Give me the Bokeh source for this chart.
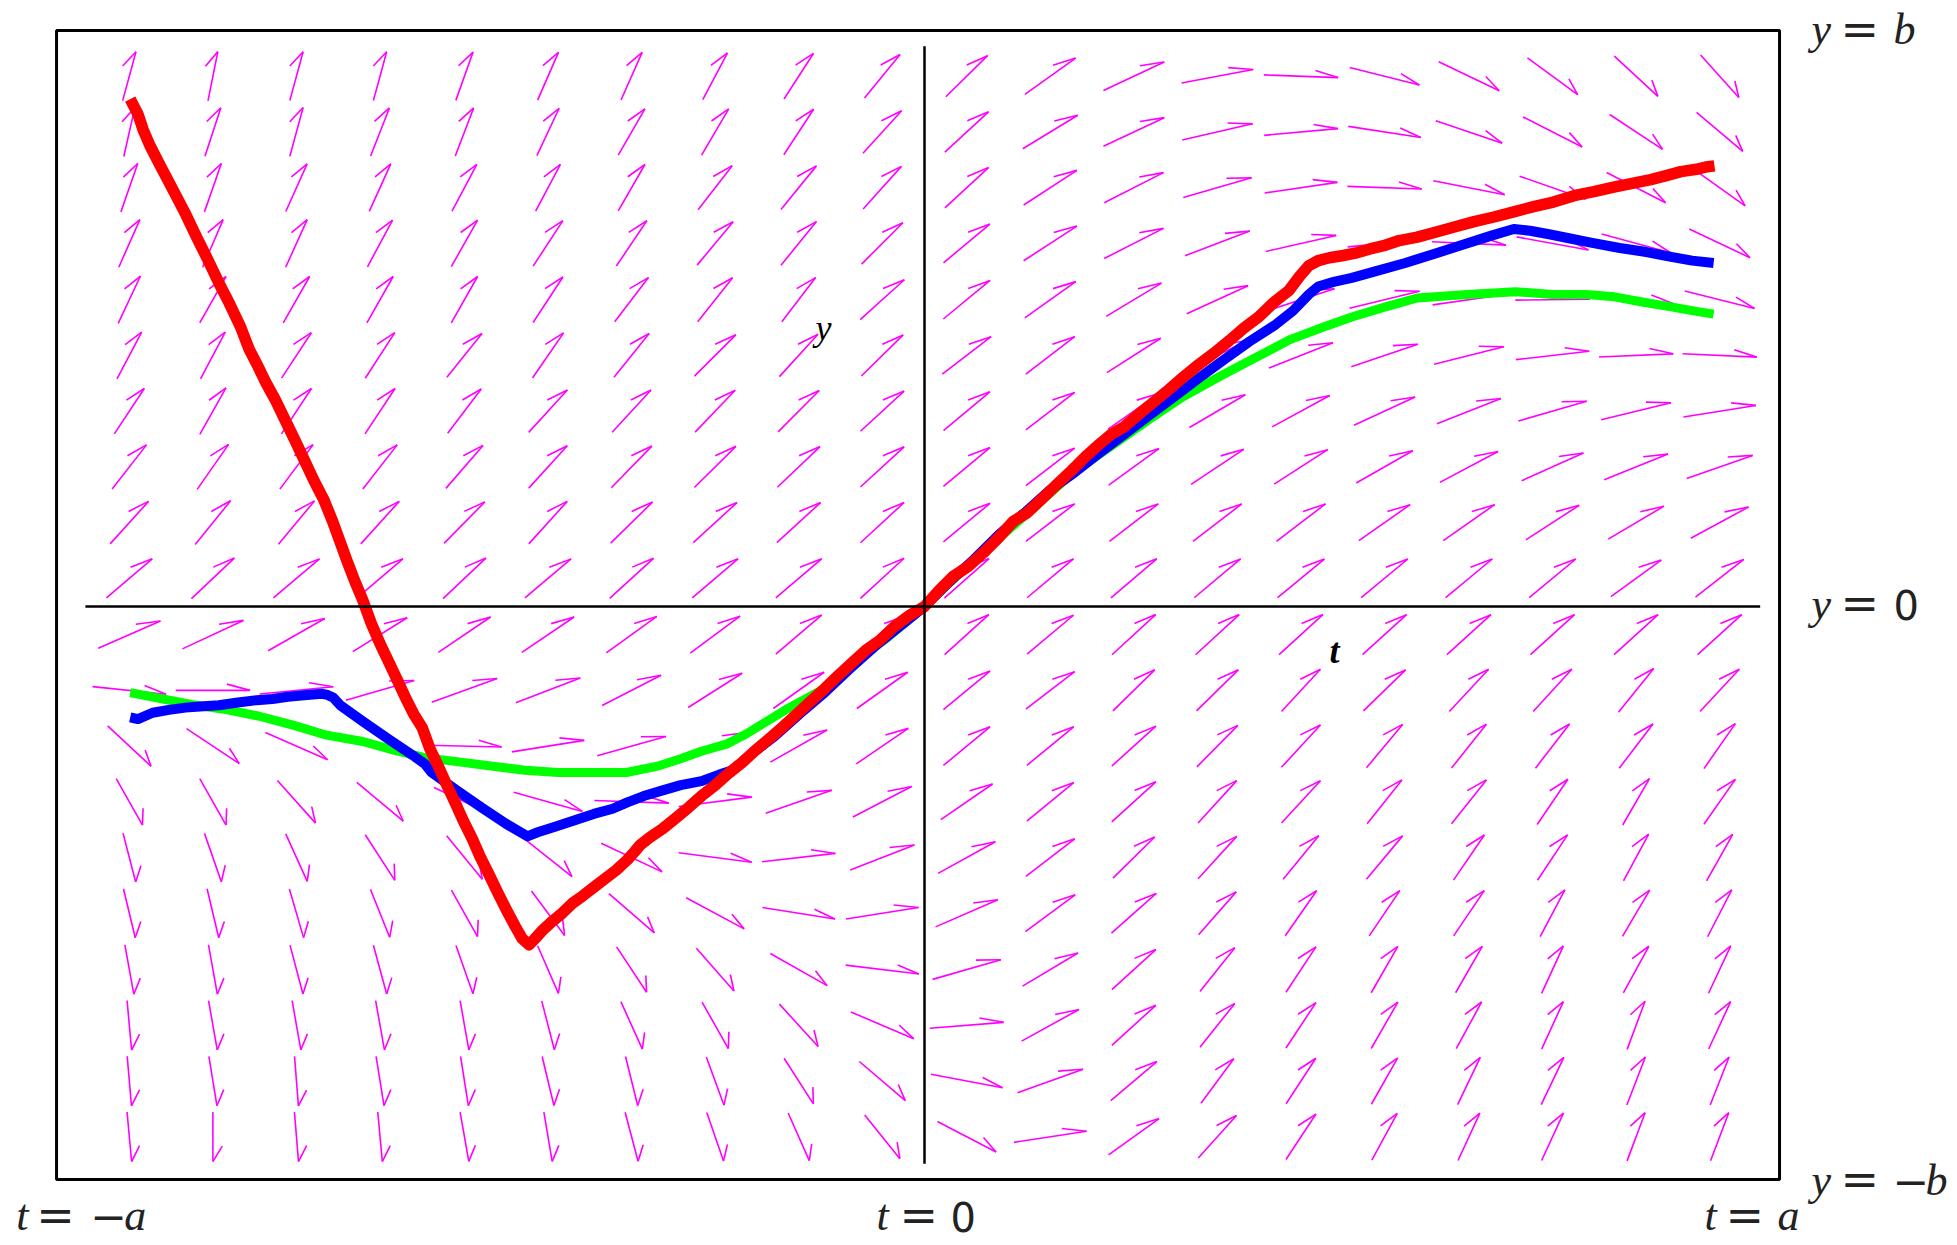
import math
from bokeh.plotting import figure
from bokeh.models import Range1d
from bokeh.core.properties import value
from bokeh.embed import file_html
from bokeh.resources import INLINE

# ---------------- data ----------------
# direction-field grid (t across, y down the rows from top)
t_grid = [-0.923, -0.826, -0.729, -0.632, -0.534, -0.437, -0.340, -0.243, -0.146, -0.049,
          0.049, 0.146, 0.243, 0.340, 0.437, 0.534, 0.632, 0.729, 0.826, 0.923]
y_grid = [0.923, 0.826, 0.729, 0.632, 0.534, 0.437, 0.340, 0.243, 0.146, 0.049,
          -0.049, -0.146, -0.243, -0.340, -0.437, -0.534, -0.632, -0.729, -0.826, -0.923]

field_angle_deg = [
    [79.7, 82.4, 79.7, 79.7, 76.6, 73.7, 73.5, 70.6, 66.7, 61.4, 55.9, 47.0, 35.2, 15.9, -3.1, -20.6, -35.6, -47.6, -54.2, -59.1],
    [81.5, 77.7, 79.7, 75.4, 75.7, 72.6, 69.0, 68.6, 66.4, 58.7, 54.1, 42.4, 35.2, 19.1, 7.8, -13.0, -26.9, -37.3, -44.7, -51.7],
    [76.9, 76.9, 73.3, 73.2, 70.5, 70.5, 69.0, 62.7, 61.5, 59.1, 54.1, 44.3, 37.3, 23.4, 12.3, -3.0, -16.4, -27.6, -37.6, -46.8],
    [73.5, 74.0, 73.2, 70.3, 69.3, 66.4, 65.8, 61.0, 61.5, 56.3, 51.4, 44.3, 37.3, 29.7, 18.8, 8.0, -4.0, -15.3, -22.2, -35.3],
    [72.6, 69.3, 69.2, 69.3, 69.3, 66.4, 63.0, 62.0, 63.0, 53.6, 51.0, 46.8, 42.1, 34.5, 26.0, 19.9, 12.0, 1.0, -9.0, -20.6],
    [70.6, 70.6, 66.4, 66.6, 61.8, 65.3, 61.8, 56.2, 58.7, 55.8, 49.0, 49.0, 43.7, 37.0, 30.6, 26.8, 20.6, 9.8, 3.7, -3.9],
    [66.2, 69.4, 66.2, 66.2, 63.2, 58.7, 58.5, 57.4, 56.4, 54.1, 51.4, 49.0, 46.2, 41.3, 39.2, 34.7, 30.7, 23.4, 20.0, 13.4],
    [62.5, 65.0, 63.5, 62.5, 60.0, 58.8, 57.0, 56.0, 55.0, 54.0, 51.3, 49.0, 47.5, 45.0, 44.0, 40.5, 38.5, 34.0, 31.0, 27.6],
    [58.9, 61.6, 61.0, 58.9, 56.7, 58.9, 55.8, 54.0, 54.0, 54.1, 51.2, 49.0, 49.0, 49.0, 48.8, 46.4, 46.4, 44.2, 41.5, 39.1],
    [52.0, 54.8, 51.7, 52.0, 54.8, 51.7, 53.9, 52.0, 52.0, 54.1, 53.0, 51.4, 52.0, 51.4, 51.1, 51.2, 51.2, 51.2, 47.4, 49.5],
    [33.3, 35.0, 40.4, 43.0, 45.4, 45.4, 47.2, 48.0, 52.0, 49.8, 53.6, 51.4, 54.1, 54.1, 53.9, 53.7, 53.7, 53.7, 53.7, 53.7],
    [-8.8, 0.0, 8.5, 23.4, 28.4, 30.0, 37.6, 43.5, 46.9, 46.9, 51.2, 49.0, 55.8, 55.8, 58.4, 55.5, 58.1, 58.7, 61.7, 58.1],
    [-54.3, -44.9, -33.3, -18.0, -2.0, 13.4, 22.7, 33.0, 40.3, 45.6, 51.2, 51.0, 53.6, 56.6, 58.4, 60.9, 62.1, 62.7, 63.0, 65.0],
    [-69.3, -69.3, -59.2, -51.4, -35.0, -22.7, -3.0, 11.0, 27.6, 37.9, 45.9, 51.0, 53.6, 58.7, 58.4, 62.1, 62.1, 65.6, 68.9, 65.0],
    [-80.2, -76.9, -73.2, -66.6, -61.4, -50.0, -35.2, -11.0, 9.6, 30.4, 39.6, 49.0, 55.8, 58.7, 61.4, 60.9, 65.5, 66.1, 70.2, 69.4],
    [-80.9, -81.0, -79.0, -75.0, -69.5, -63.6, -52.4, -38.9, -13.3, 13.3, 33.2, 48.0, 53.0, 59.6, 65.0, 65.7, 65.7, 70.6, 68.5, 71.0],
    [-83.1, -83.2, -80.0, -79.7, -76.8, -73.8, -66.2, -59.7, -40.3, -10.3, 23.2, 41.8, 53.8, 62.0, 66.2, 69.0, 69.0, 72.9, 70.0, 72.6],
    [-86.5, -83.3, -83.3, -83.2, -83.3, -80.2, -73.2, -69.3, -58.7, -32.5, 6.9, 39.5, 53.8, 62.0, 66.2, 69.0, 70.0, 73.0, 76.1, 72.8],
    [-86.7, -83.8, -87.0, -83.9, -84.0, -80.9, -80.6, -76.3, -66.8, -51.9, -15.8, 28.3, 51.7, 63.8, 66.5, 69.3, 72.3, 72.3, 75.6, 75.3],
    [-86.5, -90.0, -86.9, -86.5, -83.3, -83.6, -80.0, -77.0, -73.5, -61.8, -38.0, 13.0, 47.2, 59.1, 66.2, 70.0, 72.9, 72.9, 76.0, 75.8],
]

# approximate solution curves (t, y)
green_t = [-0.922, -0.884, -0.845, -0.809, -0.772, -0.732, -0.694, -0.652, -0.616, -0.580, -0.543, -0.501, -0.464,
           -0.425, -0.384, -0.346, -0.310, -0.283, -0.259, -0.229, -0.207, -0.181, -0.157, -0.120, -0.078, -0.043,
           0.0, 0.043, 0.087, 0.130, 0.174, 0.228, 0.261, 0.300, 0.342, 0.384, 0.425, 0.464, 0.496, 0.536, 0.572,
           0.630, 0.686, 0.729, 0.768, 0.801, 0.833, 0.865, 0.891, 0.916]
green_y = [-0.150, -0.161, -0.172, -0.180, -0.191, -0.207, -0.224, -0.235, -0.250, -0.263, -0.270, -0.278, -0.285,
           -0.289, -0.289, -0.289, -0.278, -0.265, -0.252, -0.239, -0.222, -0.198, -0.176, -0.146, -0.093, -0.054,
           0.0, 0.061, 0.120, 0.176, 0.235, 0.291, 0.326, 0.365, 0.400, 0.433, 0.465, 0.487, 0.504, 0.522, 0.537,
           0.543, 0.548, 0.543, 0.543, 0.539, 0.530, 0.522, 0.515, 0.509]

blue_t = [-0.922, -0.913, -0.896, -0.877, -0.858, -0.841, -0.819, -0.797, -0.775, -0.757, -0.739, -0.717, -0.699,
          -0.693, -0.686, -0.678, -0.652, -0.623, -0.594, -0.580, -0.572, -0.543, -0.514, -0.486, -0.461, -0.449,
          -0.428, -0.406, -0.384, -0.362, -0.345, -0.326, -0.304, -0.283, -0.259, -0.239, -0.223, -0.203, -0.174,
          -0.145, -0.116, -0.087, -0.058, -0.029, 0.0, 0.029, 0.058, 0.087, 0.116, 0.145, 0.174, 0.203, 0.232,
          0.261, 0.290, 0.319, 0.348, 0.377, 0.406, 0.428, 0.446, 0.457, 0.475, 0.496, 0.522, 0.558, 0.594, 0.632,
          0.659, 0.684, 0.703, 0.725, 0.748, 0.775, 0.807, 0.838, 0.865, 0.891, 0.916]
blue_y = [-0.193, -0.196, -0.185, -0.180, -0.176, -0.174, -0.172, -0.167, -0.163, -0.161, -0.157, -0.154, -0.152,
          -0.154, -0.159, -0.172, -0.200, -0.230, -0.259, -0.274, -0.289, -0.320, -0.350, -0.378, -0.400, -0.393,
          -0.383, -0.372, -0.361, -0.352, -0.341, -0.330, -0.320, -0.311, -0.304, -0.293, -0.285, -0.259, -0.226,
          -0.187, -0.150, -0.109, -0.070, -0.035, 0.0, 0.043, 0.083, 0.126, 0.163, 0.202, 0.233, 0.267, 0.300,
          0.333, 0.365, 0.398, 0.430, 0.461, 0.489, 0.515, 0.543, 0.557, 0.565, 0.572, 0.583, 0.598, 0.615, 0.633,
          0.646, 0.657, 0.654, 0.648, 0.641, 0.633, 0.624, 0.617, 0.609, 0.602, 0.598]

red_t = [-0.922, -0.913, -0.907, -0.899, -0.887, -0.874, -0.859, -0.845, -0.832, -0.819, -0.807, -0.794, -0.784,
         -0.775, -0.765, -0.754, -0.742, -0.730, -0.719, -0.709, -0.697, -0.687, -0.678, -0.670, -0.661, -0.652,
         -0.642, -0.632, -0.622, -0.612, -0.603, -0.593, -0.583, -0.574, -0.565, -0.555, -0.545, -0.535, -0.525,
         -0.516, -0.506, -0.496, -0.486, -0.475, -0.467, -0.459,
         -0.452, -0.443, -0.432, -0.420, -0.409, -0.397, -0.384, -0.371, -0.358, -0.345, -0.336, -0.330, -0.319,
         -0.304, -0.290, -0.274, -0.259, -0.243, -0.228, -0.212, -0.196, -0.180, -0.164, -0.148, -0.132, -0.116,
         -0.100, -0.084, -0.068, -0.052, -0.035, -0.017, 0.0,
         0.017, 0.033, 0.051, 0.068, 0.086, 0.103, 0.119, 0.136, 0.154, 0.171, 0.187, 0.201, 0.217, 0.232, 0.249,
         0.267, 0.284, 0.301, 0.319, 0.336, 0.354, 0.371, 0.388, 0.406, 0.423, 0.435, 0.446, 0.457, 0.470, 0.486,
         0.500, 0.516, 0.533, 0.551, 0.572, 0.594, 0.616, 0.638, 0.661, 0.684, 0.707, 0.730, 0.754, 0.777, 0.800,
         0.823, 0.843, 0.861, 0.878, 0.896, 0.907, 0.917]
red_y = [0.883, 0.857, 0.830, 0.802, 0.767, 0.730, 0.687, 0.643, 0.604, 0.563, 0.528, 0.487, 0.448, 0.422, 0.391,
         0.361, 0.324, 0.287, 0.252, 0.220, 0.185, 0.148, 0.111, 0.078, 0.043, 0.011, -0.030, -0.065, -0.096,
         -0.128, -0.157, -0.187, -0.211, -0.248, -0.276, -0.309, -0.341, -0.374, -0.404, -0.435, -0.465, -0.496,
         -0.526, -0.557, -0.578, -0.589,
         -0.578, -0.563, -0.548, -0.533, -0.517, -0.504, -0.489, -0.474, -0.459, -0.441, -0.426, -0.415, -0.402,
         -0.387, -0.370, -0.350, -0.330, -0.311, -0.291, -0.272, -0.250, -0.230, -0.209, -0.187, -0.165, -0.143,
         -0.120, -0.098, -0.076, -0.059, -0.035, -0.015, 0.0,
         0.028, 0.052, 0.070, 0.093, 0.120, 0.148, 0.163, 0.187, 0.213, 0.237, 0.261, 0.280, 0.300, 0.313, 0.335,
         0.357, 0.378, 0.400, 0.422, 0.441, 0.463, 0.485, 0.504, 0.530, 0.550, 0.574, 0.593, 0.602, 0.607, 0.611,
         0.615, 0.622, 0.628, 0.637, 0.643, 0.652, 0.661, 0.670, 0.678, 0.687, 0.696, 0.704, 0.715, 0.722, 0.730,
         0.737, 0.743, 0.750, 0.757, 0.761, 0.765, 0.767]

# window edges of the region [-a, a] x [-b, b]
box_t = (-1.0075, 0.9925)
box_y = (-0.9974, 1.0026)

# edge labels: pieces of each label (variable, relation, value)
label_y_b = ["y", "=", "b"]
label_y_0 = ["y", "=", "0"]
label_y_mb = ["y", "=", "\u2212", "b"]
label_t_ma = ["t", "=", "\u2212", "a"]
label_t_0 = ["t", "=", "0"]
label_t_a = ["t", "=", "a"]

# ---------------- figure ----------------
p = figure(width=1957, height=1245,
           x_range=Range1d(-1.07255, 1.19907), y_range=Range1d(-1.11227, 1.05483),
           output_backend="svg", toolbar_location=None, min_border=0,
           x_axis_location=None, y_axis_location=None)
p.grid.visible = False
p.outline_line_color = None
p.background_fill_color = "white"
p.border_fill_color = "white"

# direction field arrows (half-headed)
L = 0.0864      # arrow length (data units)
LB = 0.0291     # barb length
BARB = math.radians(22)
sx0, sy0, sx1, sy1, bx1, by1 = [], [], [], [], [], []
for r, yv in enumerate(y_grid):
    for c, tv in enumerate(t_grid):
        a = math.radians(field_angle_deg[r][c])
        dx, dy = math.cos(a) * L / 2, math.sin(a) * L / 2
        tx, ty = tv + dx, yv + dy
        sx0.append(tv - dx); sy0.append(yv - dy); sx1.append(tx); sy1.append(ty)
        ba = a + math.pi - BARB
        bx1.append(tx + LB * math.cos(ba)); by1.append(ty + LB * math.sin(ba))

p.segment(x0=sx0, y0=sy0, x1=sx1, y1=sy1, line_color="#FF00FF", line_width=1.6)
p.segment(x0=sx1, y0=sy1, x1=bx1, y1=by1, line_color="#FF00FF", line_width=1.6)

# solution curves
p.line(green_t, green_y, line_color="#00FF00", line_width=9, line_join="round")
p.line(blue_t, blue_y, line_color="#0000FF", line_width=10, line_join="round")
p.line(red_t, red_y, line_color="#FF0000", line_width=11.5, line_join="round")

# coordinate axes
p.segment(x0=[0.0, -0.974], y0=[-0.970, 0.0], x1=[0.0, 0.970], y1=[0.975, 0.0],
          line_color="black", line_width=2.5)

# frame
p.quad(left=[box_t[0]], right=[box_t[1]], bottom=[box_y[0]], top=[box_y[1]],
       fill_color=None, line_color="black", line_width=3)

# ---------------- labels ----------------
serif = value("Liberation Serif")
sans = value("DejaVu Sans")
TXT = "#222222"


def piece(x, y, s, dx, font, style, size):
    p.text(x=[x], y=[y], text=[s], x_offset=dx, y_offset=-round(0.30 * size),
           text_font=font, text_font_style=style, text_font_size=f"{size}px",
           text_color=TXT, text_align="left", text_baseline="alphabetic")


def math_label(x, y, parts, offsets):
    for s, dx in zip(parts, offsets):
        if s == "=":
            piece(x, y, s, dx, sans, "normal", 46)
        elif s == "\u2212":
            piece(x, y, s, dx, sans, "normal", 44)
        elif s == "0":
            piece(x, y, s, dx, sans, "normal", 40)
        else:
            piece(x, y, s, dx, serif, "italic", 44)


math_label(1.0296, 0.9817, label_y_b, [0, 29, 82])
math_label(1.0296, -0.0191, label_y_0, [0, 29, 82])
math_label(1.0296, -1.0217, label_y_mb, [0, 29, 81, 114])
math_label(-1.0544, -1.0827, label_t_ma, [0, 20, 74, 108])
math_label(-0.0557, -1.0827, label_t_0, [0, 23, 74])
math_label(0.9054, -1.0827, label_t_a, [0, 21, 73])

p.text(x=[-0.1265], y=[0.468], text=["y"], text_font=serif, text_font_style="italic",
       y_offset=-10, text_font_size="36px", text_color="black", text_baseline="alphabetic")
p.text(x=[0.470], y=[-0.0957], text=["t"], text_font=serif, text_font_style="bold italic",
       y_offset=-10, text_font_size="36px", text_color="black", text_baseline="alphabetic")

open("out.html", "w").write(file_html(p, INLINE))
